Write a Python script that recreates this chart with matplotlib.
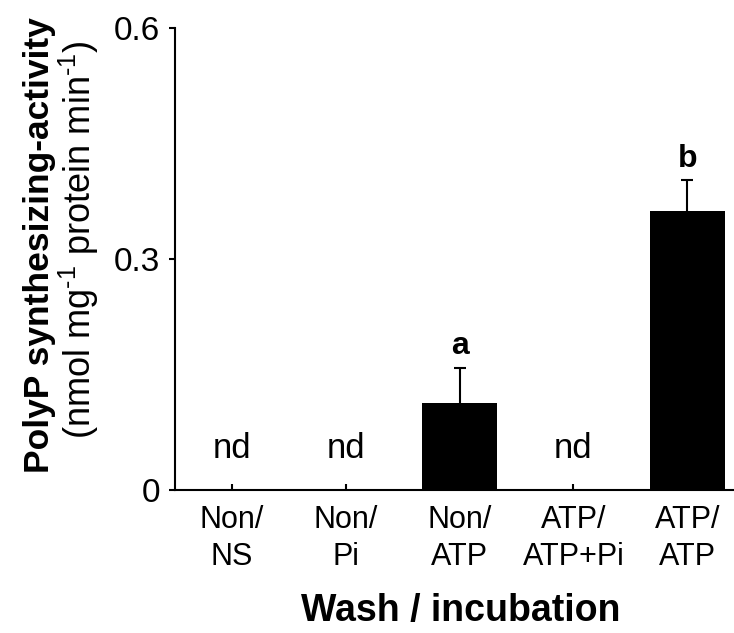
import numpy as np
import matplotlib.pyplot as plt

plt.rcParams['font.family'] = ['Liberation Sans', 'DejaVu Sans']
plt.rcParams['mathtext.fontset'] = 'custom'
plt.rcParams['mathtext.rm'] = 'Liberation Sans'
plt.rcParams['mathtext.it'] = 'Liberation Sans:italic'
plt.rcParams['mathtext.bf'] = 'Liberation Sans:bold'

# washing / incubation conditions
labels = ["Non/\nNS", "Non/\nPi", "Non/\nATP", "ATP/\nATP+Pi", "ATP/\nATP"]
activity = [0.0, 0.0, 0.113, 0.0, 0.362]
err = [0.0, 0.0, 0.046, 0.0, 0.040]
marks = ["nd", "nd", "a", "nd", "b"]

x = np.arange(1, len(labels) + 1)
activity = np.array(activity)
err = np.array(err)
has_err = err > 0

fig = plt.figure(figsize=(7.34, 6.33), dpi=100)
ax = fig.add_axes([0.2384, 0.2259, 0.760, 0.7299])

ax.bar(x, activity, width=0.66, color="black", zorder=2)
# upper error bars only, caps only at the top
ax.errorbar(x[has_err], activity[has_err],
            yerr=[np.zeros(has_err.sum()), err[has_err]],
            fmt="none", ecolor="black", elinewidth=1.5, capsize=0, zorder=1)
ax.plot(x[has_err], (activity + err)[has_err], ls="none", marker="_",
        ms=8, mew=1.5, color="black", zorder=3)

# significance letters / not detected
for xi, v, e, m in zip(x, activity, err, marks):
    if m == "nd":
        ax.text(xi, 0.042, m, ha="center", va="baseline", fontsize=25)
    else:
        ax.text(xi, v + e + 0.018, m, ha="center", va="baseline", fontsize=23, fontweight="bold")

ax.set_xlim(0.5, 5.4)
ax.set_ylim(0, 0.6)
ax.set_yticks([0, 0.3, 0.6])
ax.set_yticklabels(["0", "0.3", "0.6"])
ax.set_xticks(x)
ax.set_xticklabels(labels)
for lab in ax.get_xticklabels():
    lab.set_linespacing(1.3)

for s in ["top", "right"]:
    ax.spines[s].set_visible(False)
for s in ["left", "bottom"]:
    ax.spines[s].set_linewidth(1.5)

ax.tick_params(axis="y", direction="out", length=4.5, width=1.5, labelsize=24, pad=6)
ax.tick_params(axis="x", direction="in", length=4.5, width=1.5, labelsize=22, pad=11)

fig.text(0.054, 0.613, "PolyP synthesizing-activity", rotation=90, ha="center", va="center",
         fontsize=25.5, fontweight="bold")
fig.text(0.107, 0.621, "(nmol mg$^{\u2010\\mathrm{1}}$ protein min$^{\u2010\\mathrm{1}}$)", rotation=90,
         ha="center", va="center", fontsize=26)
fig.text(0.628, 0.035, "Wash / incubation", ha="center", va="center", fontsize=27, fontweight="bold")

fig.savefig("out.png", dpi=100)
